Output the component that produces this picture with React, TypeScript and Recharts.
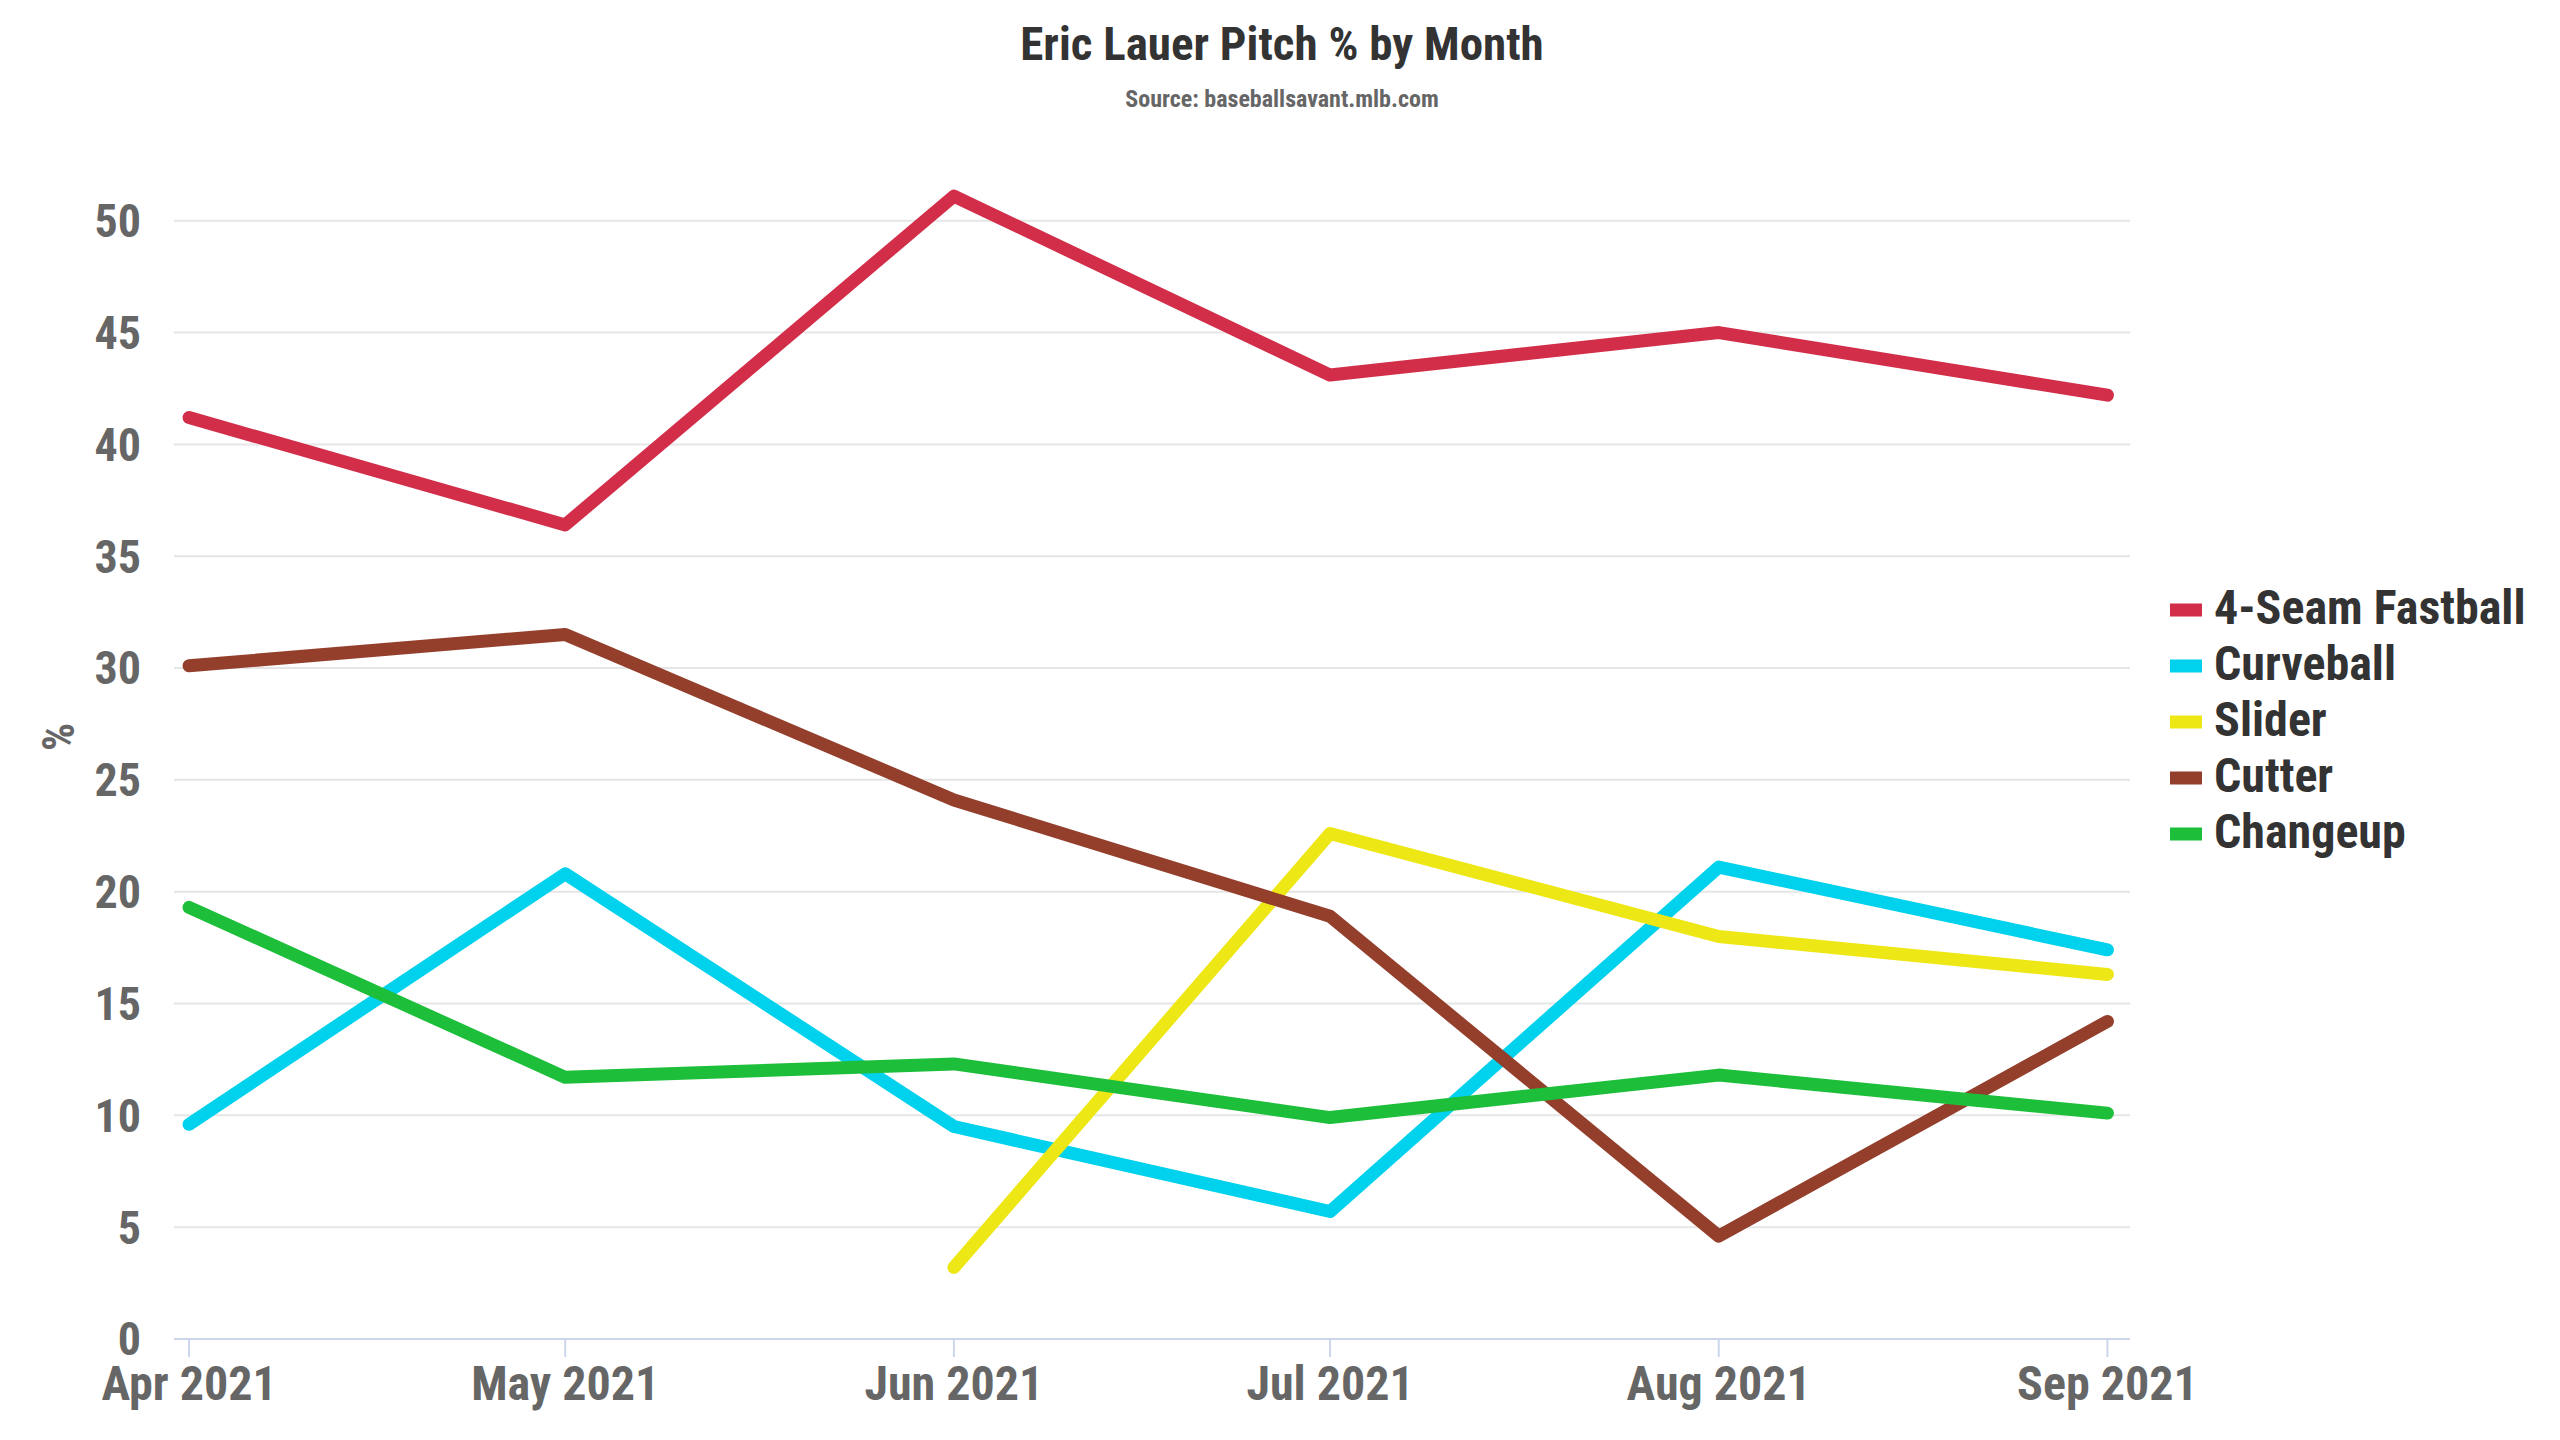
import { LineChart, Line, XAxis, YAxis, CartesianGrid } from 'recharts';

const monthStarts = ['2021-04-01', '2021-05-01', '2021-06-01', '2021-07-01', '2021-08-01', '2021-09-01'];
const monthLabels = ['Apr 2021', 'May 2021', 'Jun 2021', 'Jul 2021', 'Aug 2021', 'Sep 2021'];

const fourSeam = [41.2, 36.4, 51.1, 43.1, 45.0, 42.2];
const curveball = [9.6, 20.8, 9.5, 5.7, 21.1, 17.4];
const slider = [null, null, 3.2, 22.6, 18.0, 16.3];
const cutter = [30.1, 31.5, 24.1, 18.9, 4.6, 14.2];
const changeup = [19.3, 11.7, 12.3, 9.9, 11.8, 10.1];

const yTicks = [0, 5, 10, 15, 20, 25, 30, 35, 40, 45, 50];

const series = [
  { key: 'fourSeam', name: '4-Seam Fastball', color: '#D22D49' },
  { key: 'curveball', name: 'Curveball', color: '#00D1ED' },
  { key: 'slider', name: 'Slider', color: '#EEE716' },
  { key: 'cutter', name: 'Cutter', color: '#933F2C' },
  { key: 'changeup', name: 'Changeup', color: '#1DBE3A' },
];

const DAY = 86400000;
const dayOf = (d: string) => (Date.parse(d) - Date.parse(monthStarts[0])) / DAY;
const monthDays = monthStarts.map(dayOf);

const data = monthStarts.map((m, i) => ({
  day: monthDays[i],
  fourSeam: fourSeam[i],
  curveball: curveball[i],
  slider: slider[i],
  cutter: cutter[i],
  changeup: changeup[i],
}));

const FONT = "'Roboto Condensed', 'Liberation Sans Narrow', 'DejaVu Sans Condensed', Roboto, sans-serif";

const labelFor = (v: number) => {
  const i = monthDays.indexOf(v);
  return i >= 0 ? monthLabels[i] : '';
};

export default function App() {
  return (
    <div style={{ position: 'relative', width: 2560, height: 1440, background: '#fff' }}>
      <style>{`body{margin:0}`}</style>
      <LineChart
        width={2560}
        height={1440}
        data={data}
        margin={{ top: 176, right: 430, bottom: 0, left: 54 }}
      >
        <CartesianGrid vertical={false} horizontalValues={yTicks} stroke="#e6e6e6" strokeWidth={2} />
        <XAxis
          dataKey="day"
          type="number"
          domain={[-1.2, 154.8]}
          ticks={monthDays}
          tickFormatter={labelFor}
          height={101}
          stroke="#ccd6eb"
          strokeWidth={2}
          tickSize={18}
          tickMargin={9}
          interval={0}
          tick={{ fill: '#666666', fontSize: 48, fontWeight: 700, fontFamily: FONT }}
        />
        <YAxis
          type="number"
          domain={[0, 52]}
          ticks={yTicks}
          width={120}
          axisLine={false}
          tickLine={false}
          tickSize={0}
          tickMargin={33}
          interval={0}
          tick={{ fill: '#666666', fontSize: 46, fontWeight: 700, fontFamily: FONT }}
        />
        {series.map((s) => (
          <Line
            key={s.key}
            dataKey={s.key}
            name={s.name}
            stroke={s.color}
            strokeWidth={13}
            strokeLinecap="round"
            strokeLinejoin="round"
            dot={false}
            activeDot={false}
            type="linear"
            isAnimationActive={false}
          />
        ))}
      </LineChart>
      <svg
        width={2560}
        height={1440}
        style={{ position: 'absolute', left: 0, top: 0, pointerEvents: 'none' }}
        fontFamily={FONT}
        fontWeight={700}
      >
        <text x={1282} y={60} textAnchor="middle" fontSize={47} fill="#333333">
          Eric Lauer Pitch % by Month
        </text>
        <text x={1282} y={107} textAnchor="middle" fontSize={24} fill="#666666">
          Source: baseballsavant.mlb.com
        </text>
        <text
          x={0}
          y={0}
          transform="translate(74,737) rotate(-90)"
          textAnchor="middle"
          fontSize={44}
          fill="#666666"
        >
          %
        </text>
        {series.map((s, i) => {
          const cy = 610 + i * 56;
          return (
            <g key={s.key}>
              <rect x={2170} y={cy - 6.5} width={32} height={13} fill={s.color} />
              <text x={2214} y={cy + 14} fontSize={48} fill="#333333">
                {s.name}
              </text>
            </g>
          );
        })}
      </svg>
    </div>
  );
}
